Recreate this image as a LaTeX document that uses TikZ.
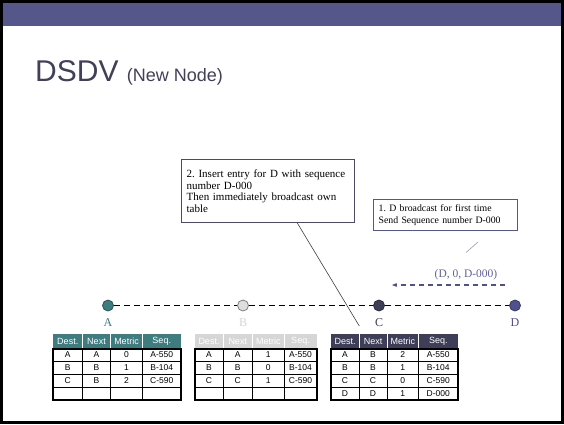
\documentclass[tikz,border=0pt]{standalone}
\usepackage{fontspec}
\setmainfont{Liberation Sans}
\newfontfamily\tms{Liberation Serif}
\usetikzlibrary{arrows.meta,calc}
\frenchspacing
\definecolor{band}{HTML}{55578A}
\definecolor{titlec}{HTML}{404058}
\definecolor{tealc}{HTML}{3E7C80}
\definecolor{lgray}{HTML}{D6D6D6}
\definecolor{darkc}{HTML}{3E3E58}
\definecolor{purp}{HTML}{50508F}
\definecolor{boxc}{HTML}{4A4A68}
\newcommand{\setcols}[5]{\def\ca{#1}\def\cb{#2}\def\cc{#3}\def\cd{#4}\def\ce{#5}}
\newcommand{\tgrid}[2]{%
  \fill[#1] (\ca,334) rectangle (\ce,348.5);
  \foreach \l/\r/\t in {\ca/\cb/Dest.,\cb/\cc/Next,\cc/\cd/Metric,\cd/\ce/Seq.}
    \node[hd,text=#2] at ({(\l+\r)/2},341.5) {\t};
  \foreach \x in {\cb,\cc,\cd} \draw[white,line width=0.8] (\x,334) -- (\x,348.5);
  \foreach \y in {361,374,387} \draw[line width=0.8] (\ca,\y) -- (\ce,\y);
  \foreach \x in {\cb,\cc,\cd} \draw[line width=0.8] (\x,348.5) -- (\x,400);
  \draw[line width=2] (\ca,348.5) rectangle (\ce,400);
}
\newcommand{\trow}[5]{%
  \node[cell] at ({(\ca+\cb)/2},#1) {#2};
  \node[cell] at ({(\cb+\cc)/2},#1) {#3};
  \node[cell] at ({(\cc+\cd)/2},#1) {#4};
  \node[cell] at ({(\cd+\ce)/2},#1) {#5};
}
\begin{document}
\begin{tikzpicture}[x=1pt,y=-1pt,
  hd/.style={font=\fontsize{9}{9}\selectfont,inner sep=0pt},
  cell/.style={font=\fontsize{8.5}{9}\selectfont,inner sep=0pt},
  netnode/.style={circle,minimum size=11,inner sep=0pt,line width=0.8pt},
  nlabel/.style={font=\tms\fontsize{12}{12}\selectfont,inner sep=0pt},
  callout/.style={draw=boxc,line width=1.3pt,fill=white,align=left,
    inner xsep=5pt,anchor=north west},
  link/.style={dashed,dash pattern=on 6pt off 4pt,line width=1.8pt,black}]
\useasboundingbox (0,0) rectangle (564,424);
\fill[white] (0,0) rectangle (564,424);
\fill[band] (0,0) rectangle (564,26);
\draw[line width=3pt] (1.5,1.5) rectangle (562.5,422.5);
% title
\node[anchor=base west,inner sep=0pt,text=titlec] (title) at (35,81)
  {\fontsize{30}{30}\selectfont DSDV\ \fontsize{18}{18}\selectfont (New Node)};
% network nodes
\node[netnode,fill=tealc,draw=tealc!70!black] (nA) at (108,305.5) {};
\node[netnode,fill=lgray!80,draw=gray] (nB) at (243,305.5) {};
\node[netnode,fill=darkc,draw=darkc!70!black] (nC) at (379,305.5) {};
\node[netnode,fill=purp,draw=purp!70!black] (nD) at (515,305.5) {};
\draw[link] (nA) -- (nB);
\draw[link] (nB) -- (nC);
\draw[link] (nC) -- (nD);
\node[nlabel,text=tealc] (lA) at (108,323) {A};
\node[nlabel,text=lgray] (lB) at (243,323) {B};
\node[nlabel,text=darkc] (lC) at (379,323) {C};
\node[nlabel,text=purp] (lD) at (515,323) {D};
% callouts
\node[callout,font=\tms\fontsize{11}{11.6}\selectfont,text width=163pt,minimum height=63pt] (box2) at (181,159)
  {2. Insert entry for D with sequence\\number D-000\\Then immediately broadcast own\\table};
\node[callout,font=\tms\fontsize{9.8}{11.7}\selectfont,draw=band,text width=134pt,minimum height=31pt] (box1) at (373,199)
  {1. D broadcast for first time\\Send Sequence number D-000};
\coordinate (l2a) at (297.3,223);
\coordinate (l2b) at (359.3,326);
\draw[line width=0.6pt,black!75] (l2a) -- (l2b);
\coordinate (l1a) at (478,242);
\coordinate (l1b) at (466,252.5);
\draw[line width=0.6pt,band!60] (l1a) -- (l1b);
% broadcast message
\node[font=\tms\fontsize{11.5}{11.5}\selectfont,text=purp!90,inner sep=0pt] (msg) at (466,274.5) {(D, 0, D-000)};
\coordinate (ar1) at (505,285);
\coordinate (ar2) at (392,285);
\draw[purp,line width=1.2pt,dash pattern=on 5pt off 4pt,-{Stealth[length=5pt,width=4pt]}] (ar1) -- (ar2);
% tables
\setcols{53}{82.5}{110.5}{142.5}{181}
\tgrid{tealc}{white}
\trow{354.75}{A}{A}{0}{A-550}
\trow{367.5}{B}{B}{1}{B-104}
\trow{380.5}{C}{B}{2}{C-590}
\setcols{195}{223}{252.5}{284}{317}
\tgrid{lgray}{white}
\trow{354.75}{A}{A}{1}{A-550}
\trow{367.5}{B}{B}{0}{B-104}
\trow{380.5}{C}{C}{1}{C-590}
\setcols{331}{359}{387}{418.5}{458}
\tgrid{darkc}{white}
\trow{354.75}{A}{B}{2}{A-550}
\trow{367.5}{B}{B}{1}{B-104}
\trow{380.5}{C}{C}{0}{C-590}
\trow{393.5}{D}{D}{1}{D-000}
\end{tikzpicture}
\end{document}
